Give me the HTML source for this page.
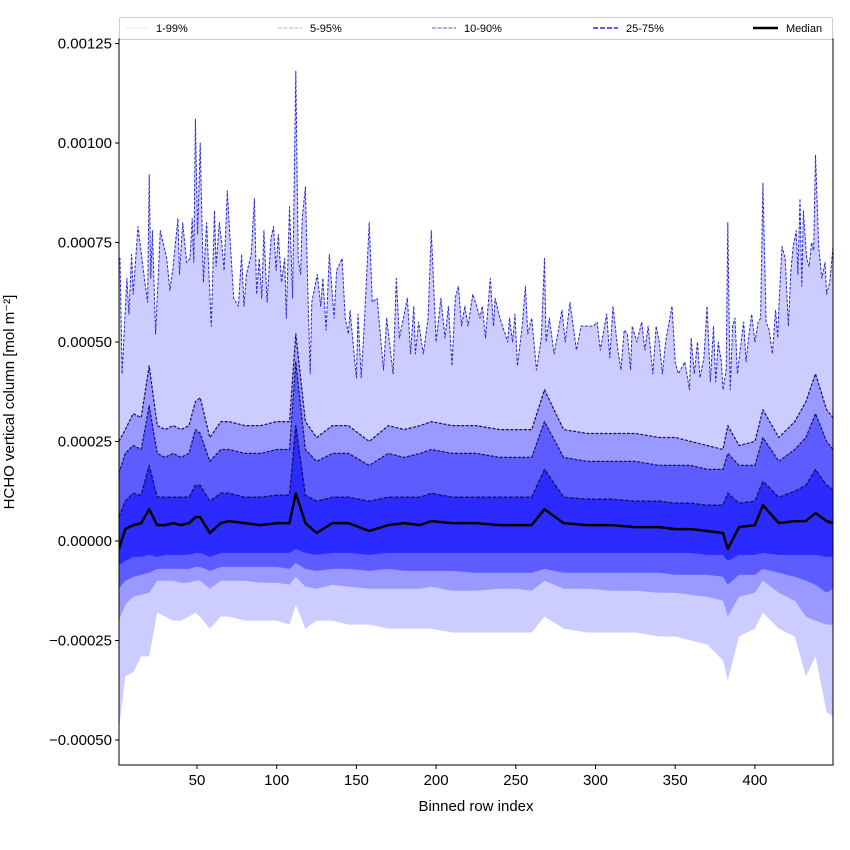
<!DOCTYPE html>
<html><head><meta charset="utf-8">
<style>
body{margin:0;background:#fff;}
svg{display:block;font-family:"Liberation Sans","DejaVu Sans",sans-serif;}
</style></head>
<body>
<svg id="chart" width="850" height="850" viewBox="0 0 850 850" xmlns="http://www.w3.org/2000/svg">
<rect width="850" height="850" fill="#fff"/>
<g id="plot"></g>
<g id="axes"></g>
<text x="476" y="811" font-size="15" text-anchor="middle">Binned row index</text>
<text transform="translate(14,402) rotate(-90)" font-size="15" text-anchor="middle">HCHO vertical column [mol m⁻²]</text>
<g>
<rect x="119.5" y="17.5" width="713" height="22" fill="#fff" stroke="#ccc" rx="2"/>
<line x1="126" y1="28" x2="148" y2="28" stroke="#e4e4ff" stroke-width="1" stroke-dasharray="4,1.5"/>
<text x="156" y="32" font-size="11">1-99%</text>
<line x1="278" y1="28" x2="302" y2="28" stroke="#b0b0ff" stroke-width="1" stroke-dasharray="4,1.5"/>
<text x="310" y="32" font-size="11">5-95%</text>
<line x1="432" y1="28" x2="456" y2="28" stroke="#7777ff" stroke-width="1.3" stroke-dasharray="4,1.5"/>
<text x="464" y="32" font-size="11">10-90%</text>
<line x1="593" y1="28" x2="618" y2="28" stroke="#4444ff" stroke-width="1.8" stroke-dasharray="5,2"/>
<text x="626" y="32" font-size="11">25-75%</text>
<line x1="753" y1="28" x2="778" y2="28" stroke="#000" stroke-width="2.5"/>
<text x="786" y="32" font-size="11">Median</text>
</g>
</svg>
<script>
const rows99=[1,1.7,3,6,7.3,9,10,13,17,19,20,21,22,24,27,31,33,35,38,39,41,43.5,45.6,47,48,49,50.4,52,54,56,59,61,62,64,65.5,67,69,70.7,73,76,78,79.5,81,84,86,87.4,89,90.6,92,94,96.4,98,99.6,101,103,105,106,108,110,112,113.5,115,116,118,119.5,121,122,125.5,127.6,129,131,133,136,137.6,141,143,145,146,150,151,153,155,158,160,163,167,169,173,175,177,182,184,186,187,189,192,195,197,200,203,205.6,207.7,210,212,214,216,218,220,223,225.5,227.5,229,231,234,236,237,240,245,246,248,249.5,251,254,256,257.5,260,263,266,268,269,271,274,279,281,284,288,291,295.5,298.6,301,303,307,309,311,314,316,318,320,322,323,326,329,331,333,336,338,340,342,344,348,350,352,356,359,360,362,364,365.5,368,370,372,374,375.4,377,379,380,382,383,384.5,386,387.5,389,392,393,394.4,396,398,400,402,403.6,405,407,409,411,413,414.3,415.3,417,419,421,422.6,424,426,427,428.3,429.4,430.4,432.5,434,435.6,436.9,438,440,442,444,445,447,449];
const p99=[7.1,7.1,4.2,6.6,5.7,7.2,6.2,7.9,6.6,6.0,9.2,6.6,7.8,5.2,7.8,7.1,6.3,6.9,8.1,6.7,8.0,7.0,7.1,8.1,7.0,10.6,7.7,10.0,6.5,8.0,5.4,8.3,6.9,8.0,7.5,6.8,8.8,7.6,6.1,5.9,7.2,5.9,6.7,7.2,8.6,6.2,7.1,6.1,7.8,6.0,7.6,7.9,6.8,7.7,6.5,7.1,5.6,8.4,6.1,11.8,7.1,6.7,8.1,8.9,6.3,4.2,6.0,6.7,5.9,6.6,5.3,7.2,5.6,6.8,7.1,5.6,5.2,5.8,4.1,5.7,4.1,5.5,8.0,6.0,6.1,4.3,5.6,4.2,6.6,5.1,6.1,4.7,5.9,4.7,5.5,4.7,5.6,7.8,5.0,6.1,5.1,5.9,4.4,6.1,6.4,5.4,5.9,5.4,6.2,5.9,5.6,5.9,5.1,6.6,5.4,6.1,5.6,5.0,5.6,5.0,5.7,4.4,5.4,6.4,5.2,5.6,4.3,5.1,7.1,5.0,5.6,4.7,5.8,5.0,6.0,4.8,5.4,5.4,5.4,5.5,4.8,5.7,4.6,5.9,4.8,4.3,5.3,5.2,4.3,5.4,5.0,5.5,4.8,5.4,4.2,5.4,5.0,4.2,5.0,5.9,4.5,4.2,4.5,3.8,5.1,4.2,5.0,4.1,4.6,5.9,4.0,5.4,4.0,5.0,4.5,3.8,4.3,8.0,3.8,5.4,5.6,4.2,5.2,5.5,4.5,5.1,5.7,5.0,5.5,5.6,9.0,5.5,5.3,4.7,5.8,5.1,6.1,7.4,7.1,5.4,6.8,7.4,7.8,6.7,8.6,6.4,8.3,7.1,6.9,7.5,7.3,9.7,7.4,6.6,7.0,6.2,6.5,7.4];
const rows=[1,5,10,15,20,25,30,35,40,45,49,52,58,65,70,80,90,100,108,112,118,125,135,145,158,170,180,190,197,210,225,240,250,260,268,280,295,310,325,340,350,360,370,380,383,390,400,405,415,425,432,438,445,449];
const p95=[2.5,2.8,3.2,3.1,4.4,2.9,2.8,2.9,2.8,2.9,3.5,3.6,2.6,3.0,3.0,2.9,2.9,3.0,3.0,5.2,3.0,2.6,2.9,2.9,2.5,2.9,2.8,2.9,3.0,2.9,2.9,2.8,2.8,2.8,3.8,2.8,2.7,2.7,2.7,2.6,2.6,2.5,2.4,2.3,2.9,2.4,2.5,3.3,2.6,3.0,3.5,4.2,3.3,3.1];
const p90=[1.7,2.2,2.4,2.3,3.4,2.2,2.1,2.2,2.1,2.2,2.8,2.7,2.0,2.3,2.3,2.2,2.2,2.3,2.3,4.5,2.3,2.0,2.2,2.2,1.9,2.2,2.1,2.2,2.3,2.2,2.2,2.1,2.1,2.1,3.0,2.1,2.0,2.0,2.0,1.9,1.9,1.9,1.8,1.8,2.2,1.9,1.9,2.6,2.0,2.3,2.6,3.2,2.5,2.3];
const p75=[0.6,1.0,1.2,1.15,1.9,1.1,1.1,1.1,1.1,1.1,1.4,1.4,1.0,1.2,1.2,1.1,1.1,1.15,1.15,2.9,1.15,1.0,1.1,1.1,1.0,1.1,1.1,1.1,1.2,1.1,1.1,1.1,1.1,1.1,1.8,1.1,1.05,1.05,1.0,1.0,0.95,0.95,0.9,0.9,1.2,0.95,1.0,1.5,1.1,1.25,1.4,1.8,1.4,1.3];
const p50=[-0.2,0.3,0.4,0.45,0.8,0.4,0.4,0.45,0.4,0.45,0.6,0.6,0.2,0.45,0.5,0.45,0.4,0.45,0.45,1.2,0.45,0.2,0.45,0.45,0.25,0.4,0.45,0.4,0.5,0.45,0.45,0.4,0.4,0.4,0.8,0.45,0.4,0.4,0.35,0.35,0.3,0.3,0.25,0.2,-0.2,0.35,0.4,0.9,0.45,0.5,0.5,0.7,0.5,0.45];
const p25=[-0.6,-0.5,-0.4,-0.4,-0.35,-0.4,-0.35,-0.35,-0.35,-0.35,-0.3,-0.3,-0.4,-0.3,-0.3,-0.3,-0.3,-0.3,-0.3,-0.2,-0.3,-0.35,-0.3,-0.3,-0.35,-0.3,-0.3,-0.3,-0.3,-0.3,-0.3,-0.3,-0.3,-0.3,-0.3,-0.3,-0.3,-0.3,-0.3,-0.3,-0.3,-0.3,-0.35,-0.35,-0.5,-0.35,-0.35,-0.3,-0.35,-0.35,-0.35,-0.35,-0.4,-0.4];
const p10=[-1.2,-1.0,-0.9,-0.85,-0.8,-0.7,-0.7,-0.7,-0.7,-0.7,-0.65,-0.65,-0.75,-0.65,-0.65,-0.65,-0.65,-0.65,-0.7,-0.55,-0.7,-0.75,-0.7,-0.7,-0.75,-0.7,-0.75,-0.75,-0.75,-0.75,-0.8,-0.8,-0.8,-0.8,-0.7,-0.8,-0.8,-0.8,-0.8,-0.8,-0.85,-0.85,-0.85,-0.9,-1.1,-0.85,-0.85,-0.7,-0.8,-0.9,-1.0,-1.1,-1.3,-1.2];
const p5=[-2.0,-1.6,-1.4,-1.35,-1.3,-1.0,-1.0,-1.0,-1.05,-1.05,-1.0,-1.0,-1.2,-1.0,-1.0,-1.0,-1.05,-1.05,-1.1,-0.9,-1.15,-1.2,-1.1,-1.15,-1.2,-1.2,-1.2,-1.2,-1.15,-1.25,-1.25,-1.2,-1.2,-1.25,-1.0,-1.2,-1.2,-1.25,-1.25,-1.3,-1.3,-1.35,-1.4,-1.5,-1.9,-1.4,-1.3,-1.0,-1.3,-1.5,-1.9,-2.0,-2.1,-2.1];
const p1=[-4.75,-3.4,-3.3,-2.9,-2.9,-1.8,-1.9,-2.0,-2.0,-1.9,-1.8,-1.9,-2.2,-1.9,-1.9,-2.0,-2.0,-2.0,-2.1,-1.6,-2.2,-2.0,-2.0,-2.1,-2.1,-2.2,-2.2,-2.2,-2.2,-2.3,-2.3,-2.3,-2.3,-2.3,-1.9,-2.2,-2.3,-2.3,-2.3,-2.4,-2.4,-2.5,-2.6,-3.0,-3.5,-2.4,-2.2,-1.8,-2.2,-2.4,-3.4,-2.9,-4.3,-4.4];
const xTicks=[50,100,150,200,250,300,350,400];
const yTicks=[-0.0005,-0.00025,0,0.00025,0.0005,0.00075,0.001,0.00125];
const yTickLabels=["\u22120.00050","\u22120.00025","0.00000","0.00025","0.00050","0.00075","0.00100","0.00125"];

const L=119,R=833,T=39,B=765;
const X=v=>117.3+v*1.594;
const Y=v=>541-v*398000;
const S=1e-4;
const NS="http://www.w3.org/2000/svg";
const plot=document.getElementById('plot'), axes=document.getElementById('axes');
function mk(tag,attrs,parent){const e=document.createElementNS(NS,tag);for(const k in attrs)e.setAttribute(k,attrs[k]);parent.appendChild(e);return e;}
const clip=mk('clipPath',{id:'cp'},plot);mk('rect',{x:L,y:T,width:R-L,height:B-T},clip);
const g=mk('g',{'clip-path':'url(#cp)'},plot);
function pts(rs,arr){return rs.map((r,i)=>X(r).toFixed(1)+','+Y(arr[i]*S).toFixed(1));}
function band(rh,hi,rl,lo,fill,name){
  const d='M'+pts(rh,hi).join('L')+'L'+pts(rl,lo).reverse().join('L')+'Z';
  const p=mk('path',{d:d,fill:fill},g);
  
  
}
band(rows99,p99,rows,p1,'#ccccff','band-1-99');
band(rows,p95,rows,p5,'#9999ff','band-5-95');
band(rows,p90,rows,p10,'#5c5cff','band-10-90');
band(rows,p75,rows,p25,'#2b2bff','band-25-75');
function line(rs,arr,stroke,w,dash,name){
  const p=mk('path',{d:'M'+pts(rs,arr).join('L'),fill:'none',stroke:stroke,'stroke-width':w,'stroke-linejoin':'round'},g);
  if(dash)p.setAttribute('stroke-dasharray',dash);
  
  
}
line(rows99,p99,'#2a2acc',1,'3,1.5','line-p99');
line(rows,p95,'#10106a',1.2,'3,1.5','line-p95');
line(rows,p90,'#10106a',1.2,'3,1.5','line-p90');
line(rows,p75,'#10106a',1.3,'4,1.5','line-p75');
line(rows,p50,'#000',2.5,null,'line-median');

mk('rect',{x:L,y:T,width:R-L,height:B-T,fill:'none',stroke:'#000','stroke-width':1},axes);
xTicks.forEach(t=>{
  const x=X(t);
  const l=mk('line',{x1:x,y1:B,x2:x,y2:B+4,stroke:'#000'},axes);
  
  
  const tx=mk('text',{x:x,y:B+20,'font-size':15,'text-anchor':'middle'},axes);
  tx.textContent=t;
  
  
});
yTicks.forEach((t,i)=>{
  const y=Y(t);
  const l=mk('line',{x1:L-4,y1:y,x2:L,y2:y,stroke:'#000'},axes);
  
  
  const tx=mk('text',{x:L-7,y:y+5,'font-size':15,'text-anchor':'end'},axes);
  tx.textContent=yTickLabels[i];
  
  
});
</script>
</body></html>
